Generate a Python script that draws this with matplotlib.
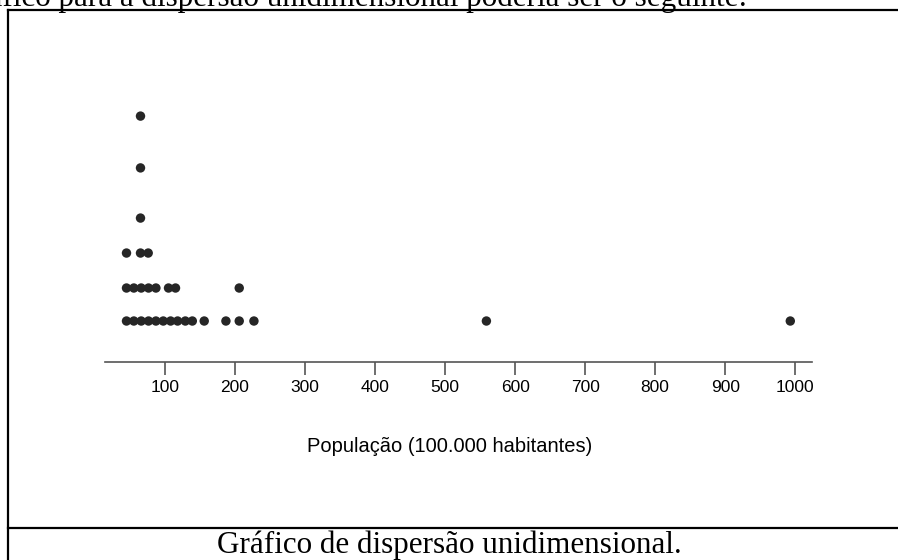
import matplotlib.pyplot as plt
from matplotlib.lines import Line2D

# dot plot values (population, 100.000 inhabitants), one list per stack row
row1 = [45, 55.5, 66, 76.5, 87, 97.5, 108, 118, 129, 139, 156, 187, 206, 227, 559, 993]
row2 = [45, 55.5, 66, 76.5, 87, 105, 115, 206]
row3 = [45, 65, 76]
row4 = [65]
row5 = [65]
row6 = [65]
rows = [row1, row2, row3, row4, row5, row6]
# height of each stack row as it appears in the picture
row_level = [1, 2, 3.06, 4.12, 5.64, 7.21]

ticks = [100, 200, 300, 400, 500, 600, 700, 800, 900, 1000]

W, H = 898, 560
fig = plt.figure(figsize=(W / 100, H / 100), dpi=100)

ax = fig.add_axes([105 / W, 1 - 362 / H, (812 - 105) / W, (362 - 60) / H])
for row, lev in zip(rows, row_level):
    ax.scatter(row, [lev] * len(row), s=46, color='#262626', edgecolors='none', zorder=3)

ax.set_xlim(14.3, 1024)
ax.set_ylim(-0.242, 8.91)
for s in ['top', 'left', 'right']:
    ax.spines[s].set_visible(False)
ax.spines['bottom'].set_color('#555555')
ax.spines['bottom'].set_linewidth(1.2)
ax.set_yticks([])
ax.set_xticks(ticks)
ax.set_xticklabels([str(t) for t in ticks], family='Liberation Sans', fontsize=12.5)
ax.tick_params(axis='x', direction='out', length=9.4, width=1.2, color='#555555', pad=3.5)

fig.text(450 / W, 1 - 447 / H, 'População (100.000 habitantes)', family='Liberation Sans',
         fontsize=14.5, ha='center', va='center')

# page frame around the figure and caption cell
lw = 1.6
fig.add_artist(Line2D([8 / W, 1], [1 - 10 / H, 1 - 10 / H], color='black', lw=lw))
fig.add_artist(Line2D([8 / W, 8 / W], [0, 1 - 10 / H], color='black', lw=lw))
fig.add_artist(Line2D([8 / W, 1], [1 - 528 / H, 1 - 528 / H], color='black', lw=lw))

# running text of the page above the figure, cut by the top edge as in the scan
fig.text(747 / W, 1 - 6 / H, 'Um gráfico para a dispersão unidimensional poderia ser o seguinte:',
         family='Liberation Serif', fontsize=22.4, ha='right', va='baseline')
fig.text(449 / W, 1 - 553 / H, 'Gráfico de dispersão unidimensional.',
         family='Liberation Serif', fontsize=22.4, ha='center', va='baseline')

fig.savefig('out.png', dpi=100)
